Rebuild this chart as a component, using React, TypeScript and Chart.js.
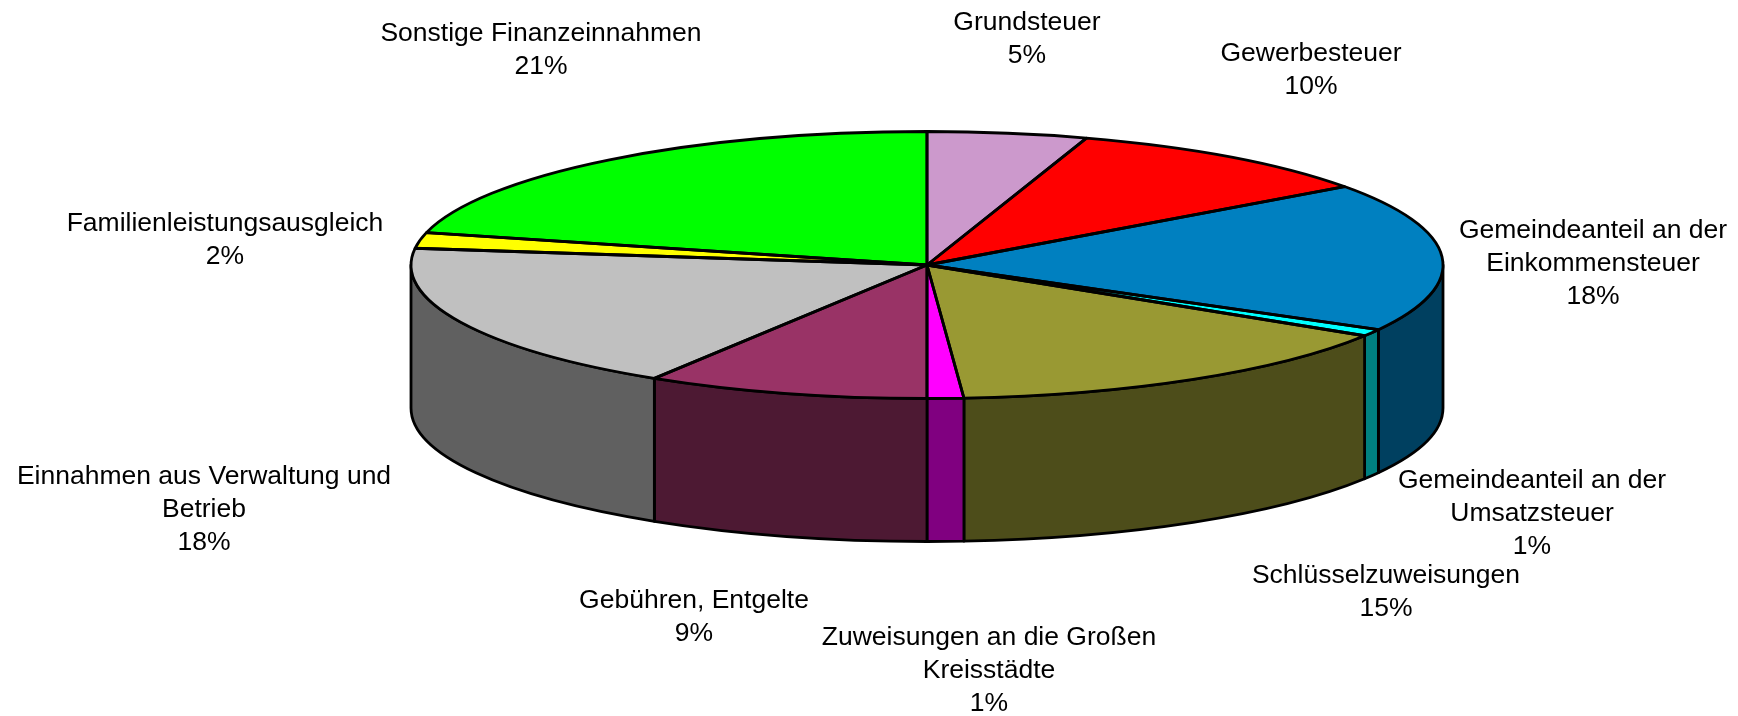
import React, { useEffect, useRef } from "react";
import { Chart, registerables } from "chart.js";

Chart.register(...registerables);

const categories = [
  "Grundsteuer",
  "Gewerbesteuer",
  "Gemeindeanteil an der Einkommensteuer",
  "Gemeindeanteil an der Umsatzsteuer",
  "Schlüsselzuweisungen",
  "Zuweisungen an die Großen Kreisstädte",
  "Gebühren, Entgelte",
  "Einnahmen aus Verwaltung und Betrieb",
  "Familienleistungsausgleich",
  "Sonstige Finanzeinnahmen",
];
const shares = [5, 10, 18.05, 0.84, 14.97, 1.14, 8.86, 18.14, 1.9, 21.1];
const percentLabels = ["5%", "10%", "18%", "1%", "15%", "1%", "9%", "18%", "2%", "21%"];
const labelLines = [
  ["Grundsteuer"],
  ["Gewerbesteuer"],
  ["Gemeindeanteil an der", "Einkommensteuer"],
  ["Gemeindeanteil an der", "Umsatzsteuer"],
  ["Schlüsselzuweisungen"],
  ["Zuweisungen an die Großen", "Kreisstädte"],
  ["Gebühren, Entgelte"],
  ["Einnahmen aus Verwaltung und", "Betrieb"],
  ["Familienleistungsausgleich"],
  ["Sonstige Finanzeinnahmen"],
];
const topColors = ["#CC99CC", "#FF0000", "#0080C0", "#00FFFF", "#999933", "#FF00FF", "#993366", "#C0C0C0", "#FFFF00", "#00FF00"];
const wallColors = ["#664D66", "#800000", "#004060", "#008080", "#4D4D1A", "#800080", "#4D1933", "#606060", "#808000", "#008000"];
const labelAnchors: [number, number][] = [
  [1027, 23], [1311, 54], [1593, 231], [1532, 481], [1386, 576],
  [989, 638], [694, 601], [204, 477], [225, 224], [541, 34],
];

const CX = 927;
const CY = 265;
const RX = 516;
const RY = 133.5;
const DEPTH = 143;
const LINE = 2.8;
const LINE_HEIGHT = 32.8;
const PIE_RADIUS = 265;

const pie3d = {
  id: "pie3d",
  beforeDatasetsDraw(chart: any) {
    const ctx = chart.ctx;
    const arcs = chart.getDatasetMeta(0).data;
    ctx.save();
    ctx.lineWidth = LINE;
    ctx.strokeStyle = "#000";
    ctx.lineJoin = "round";
    arcs.forEach((arc: any, i: number) => {
      const a = Math.max(arc.startAngle, 0);
      const b = Math.min(arc.endAngle, Math.PI);
      if (b <= a) return;
      ctx.beginPath();
      ctx.ellipse(CX, CY, RX, RY, 0, a, b);
      ctx.ellipse(CX, CY + DEPTH, RX, RY, 0, b, a, true);
      ctx.closePath();
      ctx.fillStyle = wallColors[i];
      ctx.fill();
      ctx.stroke();
    });
    ctx.restore();
    ctx.save();
    ctx.translate(CX, CY);
    ctx.scale(RX / PIE_RADIUS, RY / PIE_RADIUS);
    ctx.translate(-arcs[0].x, -arcs[0].y);
  },
  afterDatasetsDraw(chart: any) {
    const ctx = chart.ctx;
    ctx.restore();
    const arcs = chart.getDatasetMeta(0).data;
    ctx.save();
    ctx.lineWidth = LINE;
    ctx.strokeStyle = "#000";
    ctx.lineJoin = "round";
    arcs.forEach((arc: any) => {
      ctx.beginPath();
      ctx.moveTo(CX, CY);
      ctx.ellipse(CX, CY, RX, RY, 0, arc.startAngle, arc.endAngle);
      ctx.closePath();
      ctx.stroke();
    });
    ctx.restore();
  },
  afterDraw(chart: any) {
    const ctx = chart.ctx;
    ctx.save();
    ctx.fillStyle = "#000";
    ctx.font = '26.5px "Liberation Sans", Arial, sans-serif';
    ctx.textAlign = "center";
    ctx.textBaseline = "middle";
    labelLines.forEach((lines, i) => {
      const [x, y] = labelAnchors[i];
      [...lines, percentLabels[i]].forEach((t, k) => ctx.fillText(t, x, y + k * LINE_HEIGHT));
    });
    ctx.restore();
  },
};

export default function App() {
  const ref = useRef<HTMLCanvasElement>(null);
  useEffect(() => {
    document.body.style.margin = "0";
    document.body.style.background = "#fff";
    const chart = new Chart(ref.current!, {
      type: "pie",
      data: {
        labels: categories,
        datasets: [{ data: shares, backgroundColor: topColors, borderWidth: 0 }],
      },
      options: {
        animation: false,
        responsive: false,
        layout: { padding: { left: 116, top: 0, right: 0, bottom: 186 } },
        plugins: { legend: { display: false }, tooltip: { enabled: false } },
      },
      plugins: [pie3d],
    });
    return () => chart.destroy();
  }, []);
  return <canvas ref={ref} width={1738} height={716} style={{ display: "block" }} />;
}
